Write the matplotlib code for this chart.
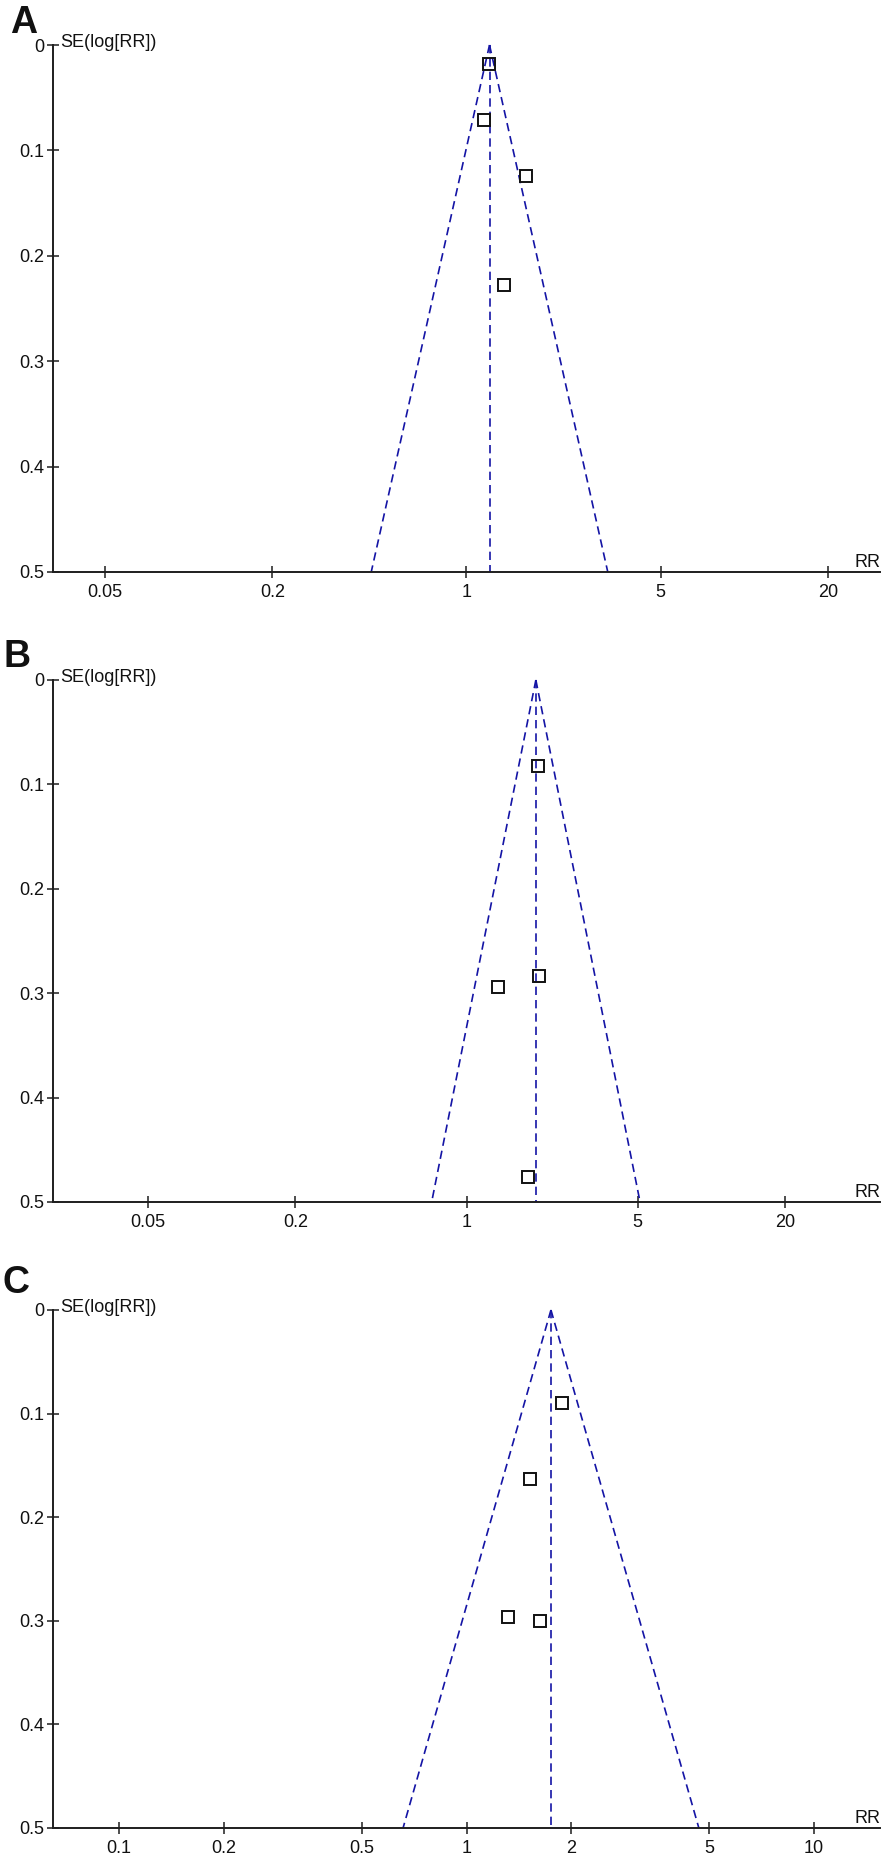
import matplotlib
matplotlib.use('Agg')
import matplotlib.pyplot as plt
import numpy as np
from matplotlib.ticker import NullLocator

plt.rcParams['font.family'] = ['Liberation Sans', 'DejaVu Sans']

# ---------------- data ----------------
panel_letters = ['A', 'B', 'C']

pooled_rr = [1.21, 1.92, 1.75]

rr_A = [1.20, 1.16, 1.64, 1.36]
se_A = [0.018, 0.071, 0.124, 0.228]

rr_B = [1.96, 1.98, 1.34, 1.78]
se_B = [0.082, 0.284, 0.294, 0.476]

rr_C = [1.88, 1.525, 1.315, 1.625]
se_C = [0.090, 0.163, 0.296, 0.300]

xticks_A = [0.05, 0.2, 1, 5, 20]
xticks_B = [0.05, 0.2, 1, 5, 20]
xticks_C = [0.1, 0.2, 0.5, 1, 2, 5, 10]

yticks = [0, 0.1, 0.2, 0.3, 0.4, 0.5]
ytick_labels = ['0', '0.1', '0.2', '0.3', '0.4', '0.5']

x_label = 'RR'
y_label = 'SE(log[RR])'

# ---------------- layout ----------------
W, H = 885, 1859
fig = plt.figure(figsize=(W / 100, H / 100), dpi=100)

x_left, x_right = 53, 880
layout = [
    dict(y0=45, y1=572, half=1.488, lx=10, ly=33),
    dict(y0=680, y1=1202, half=1.689, lx=3, ly=667),
    dict(y0=1310, y1=1828, half=1.19, lx=3, ly=1293),
]

rr_all = [rr_A, rr_B, rr_C]
se_all = [se_A, se_B, se_C]
xticks_all = [xticks_A, xticks_B, xticks_C]

blue = '#1414A5'
axis_col = '#1e1e1e'
fs = 13

for i in range(3):
    L = layout[i]
    ax = fig.add_axes([x_left / W, 1 - L['y1'] / H,
                       (x_right - x_left) / W, (L['y1'] - L['y0']) / H])
    ax.set_xscale('log')
    ax.set_xlim(10 ** (-L['half']), 10 ** (L['half']))
    ax.set_ylim(0.5, 0)

    for s in ['top', 'right']:
        ax.spines[s].set_visible(False)
    for s in ['left', 'bottom']:
        ax.spines[s].set_linewidth(1.4)
        ax.spines[s].set_color(axis_col)

    p = pooled_rr[i]
    se_line = np.array([0.0, 0.5])
    dash = (0, (5.0, 3.0))
    ax.plot(p * np.exp(-1.96 * se_line), se_line, color=blue, lw=1.2,
            linestyle=dash, clip_on=False, zorder=2)
    ax.plot(p * np.exp(1.96 * se_line), se_line, color=blue, lw=1.2,
            linestyle=dash, clip_on=False, zorder=2)
    ax.plot([p, p], se_line, color=blue, lw=1.2, linestyle=dash,
            clip_on=False, zorder=2)

    ax.plot(rr_all[i], se_all[i], 's', mfc='none', mec='#111111', ms=9.2,
            mew=1.4, clip_on=False, zorder=3)

    ax.set_xticks(xticks_all[i])
    ax.set_xticklabels([('%g' % v) for v in xticks_all[i]])
    ax.xaxis.set_minor_locator(NullLocator())
    ax.set_yticks(yticks)
    ax.set_yticklabels(ytick_labels)

    ax.tick_params(axis='both', direction='inout', length=8.6, width=1.1,
                   colors=axis_col, labelsize=fs, labelcolor='#111111')
    ax.tick_params(axis='x', pad=4.0)
    ax.tick_params(axis='y', pad=2.0)

    ax.annotate(x_label, xy=(1, 0), xycoords='axes fraction',
                xytext=(0, 5), textcoords='offset pixels',
                ha='right', va='baseline', fontsize=fs, color='#111111')
    ax.annotate(y_label, xy=(0, 1), xycoords='axes fraction',
                xytext=(7, -2), textcoords='offset pixels',
                ha='left', va='baseline', fontsize=fs, color='#111111')

    fig.text(L['lx'] / W, 1 - L['ly'] / H, panel_letters[i],
             fontsize=27, fontweight='bold', ha='left', va='baseline',
             color='#111111')

fig.savefig('out.png', dpi=100)
